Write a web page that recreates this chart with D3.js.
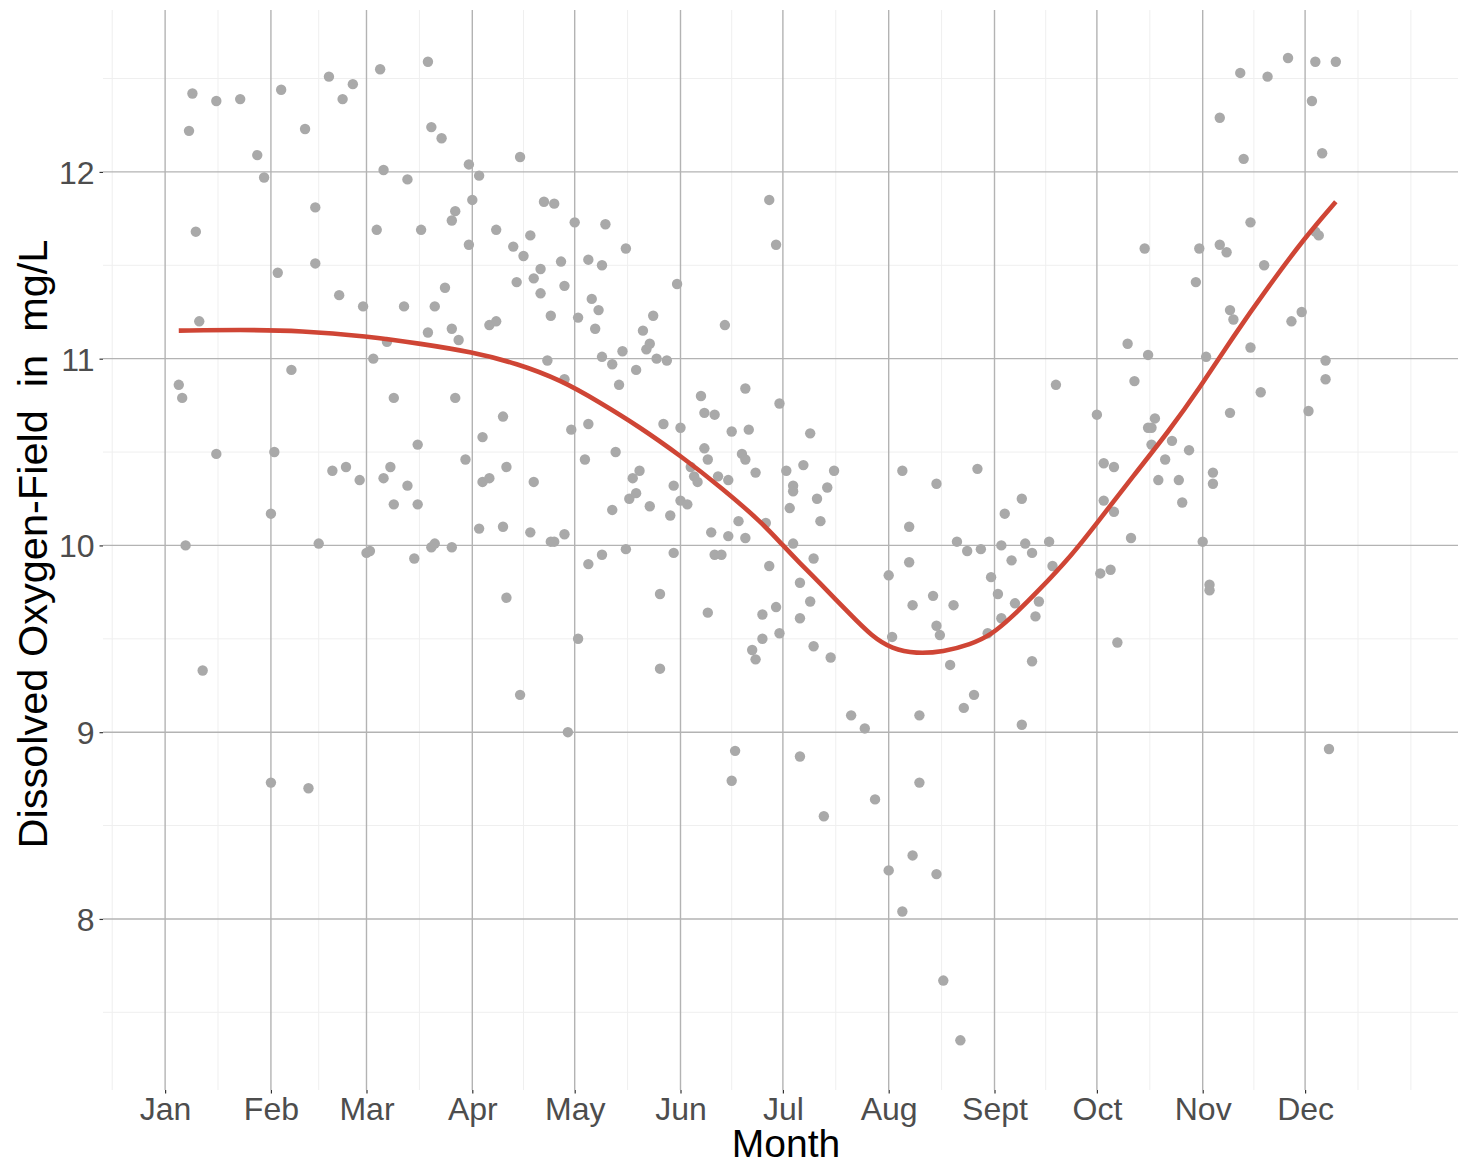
<!DOCTYPE html>
<html>
<head>
<meta charset="utf-8">
<script src="https://cdn.jsdelivr.net/npm/d3@7"></script>
<style>
  html, body { margin: 0; padding: 0; background: #ffffff; }
  svg { display: block; font-family: "Liberation Sans", Arial, Helvetica, sans-serif; }
</style>
</head>
<body>
<svg id="chart" width="1458" height="1164"></svg>
<script>
// ---- Data (day of year, dissolved oxygen mg/L) ----
const obsQ1 = [[5,10.86],[6,10.79],[7,10.00],[8,12.22],[9,12.42],[10,11.68],[11,11.20],[12,9.33],[16,12.38],[16,10.49],[23,12.39],[28,12.09],[30,11.97],[32,10.17],[33,10.50],[32,8.73],[34,11.46],[35,12.44],[38,10.94],[42,12.23],[43,8.70],[45,11.81],[45,11.51],[46,10.01],[49,12.51],[50,10.40],[52,11.34],[53,12.39],[54,10.42],[56,12.47],[58,10.35],[59,11.28],[60,9.96],[61,9.97],[62,11.00],[63,11.69],[64,12.55],[65,12.01],[65,10.36],[66,11.09],[67,10.42],[68,10.79],[68,10.22],[71,11.28],[72,11.96],[72,10.32],[74,9.93],[75,10.54],[75,10.22],[76,11.69],[78,12.59],[78,11.14],[79,12.24],[79,9.99],[80,11.28],[80,10.01],[82,12.18],[83,11.38],[85,11.74],[86,11.79],[85,11.16],[85,9.99],[86,10.79],[87,11.10],[89,10.46],[90,12.04],[90,11.61]];
const obsQ2 = [[91,11.85],[93,11.98],[93,10.09],[94,10.58],[94,10.34],[96,10.36],[96,11.18],[98,11.20],[98,11.69],[100,10.69],[100,10.10],[101,10.42],[101,9.72],[103,11.60],[104,11.41],[105,12.08],[105,9.20],[106,11.55],[108,11.66],[108,10.07],[109,11.43],[109,10.34],[111,11.48],[111,11.35],[112,11.84],[113,10.99],[114,11.23],[114,10.02],[115,10.02],[115,11.83],[117,11.52],[118,11.39],[118,10.89],[118,10.06],[119,9.00],[120,10.62],[121,11.73],[122,11.22],[122,9.50],[124,10.46],[125,11.53],[125,10.65],[125,9.90],[126,11.32],[127,11.16],[128,11.26],[129,11.50],[129,11.01],[129,9.95],[130,11.72],[132,10.97],[132,10.19],[133,10.50],[134,10.86],[135,11.04],[136,11.59],[136,9.98],[137,10.25],[138,10.36],[139,10.94],[139,10.28],[140,10.40],[141,11.15],[142,11.05],[143,11.08],[143,10.21],[144,11.23],[145,11.00],[146,9.74],[146,9.34],[147,10.65],[148,10.99],[149,10.16],[150,10.32],[150,9.96],[151,11.40],[152,10.63],[152,10.24],[154,10.22],[155,10.42],[156,10.37],[157,10.34],[158,10.80],[159,10.71],[159,10.52],[160,10.46],[160,9.64],[161,10.07],[162,10.70],[162,9.95],[163,10.37],[164,9.95],[165,11.18],[166,10.35],[166,10.05],[167,10.61],[167,8.74],[168,8.90],[169,10.13],[170,10.49],[171,10.46],[171,10.04],[171,10.84],[172,10.62],[173,9.44],[174,10.39],[174,9.39],[176,9.63],[176,9.50],[177,10.12],[178,11.85],[178,9.89],[180,11.61],[180,9.67],[181,10.76],[181,9.53]];
const obsQ3 = [[183,10.40],[184,10.20],[185,10.32],[185,10.29],[185,10.01],[187,9.80],[187,9.61],[187,8.87],[188,10.43],[190,10.60],[190,9.70],[191,9.93],[191,9.46],[192,10.25],[193,10.13],[194,8.55],[195,10.31],[196,9.40],[197,10.40],[202,9.09],[206,9.02],[209,8.64],[213,9.84],[213,8.26],[214,9.51],[217,10.40],[217,8.04],[219,10.10],[219,9.91],[220,9.68],[220,8.34],[222,9.09],[222,8.73],[226,9.73],[227,10.33],[227,9.57],[227,8.24],[228,9.52],[229,7.67],[231,9.36],[232,9.68],[233,10.02],[234,7.35],[235,9.13],[236,9.97],[238,9.20],[239,10.41],[240,9.98],[242,9.53],[243,9.83],[245,9.74],[246,10.00],[246,9.61],[247,10.17],[249,9.92],[250,9.69],[252,10.25],[252,9.04],[253,10.01],[255,9.96],[255,9.38],[256,9.62],[257,9.70],[260,10.02],[261,9.89],[262,10.86]];
const obsQ4 = [[274,10.70],[275,9.85],[276,10.44],[276,10.24],[278,9.87],[279,10.42],[279,10.18],[280,9.48],[283,11.08],[284,10.04],[285,10.88],[288,11.59],[289,10.63],[289,11.02],[290,10.63],[290,10.54],[291,10.68],[292,10.35],[294,10.46],[296,10.56],[298,10.35],[299,10.23],[301,10.51],[303,11.41],[304,11.59],[305,10.02],[306,11.01],[307,9.79],[307,9.76],[308,10.39],[308,10.33],[310,12.29],[310,11.61],[312,11.57],[313,11.26],[313,10.71],[314,11.21],[316,12.53],[317,12.07],[319,11.73],[319,11.06],[322,10.82],[323,11.50],[324,12.51],[330,12.61],[331,11.20],[334,11.25],[336,10.72],[337,12.38],[338,12.59],[338,11.68],[339,11.66],[340,12.10],[341,10.99],[341,10.89],[342,8.91],[344,12.59]];

// Smoothed (loess) trend
const smoothDays = [5, 23, 41, 60, 76, 91, 104, 117, 128, 140, 152, 164, 176, 182, 187, 192, 202, 208, 214, 221, 229, 237, 243, 249, 256, 267, 274, 285, 295, 304, 314, 324, 335, 344];
const smoothDO   = [11.15, 11.155, 11.15, 11.12, 11.08, 11.035, 10.975, 10.885, 10.77, 10.635, 10.48, 10.31, 10.12, 10.0, 9.905, 9.815, 9.625, 9.515, 9.445, 9.42, 9.43, 9.47, 9.52, 9.615, 9.74, 9.955, 10.12, 10.38, 10.61, 10.84, 11.12, 11.38, 11.65, 11.84];

// Axes
const monthStartDays = [1, 32, 60, 91, 121, 152, 182, 213, 244, 274, 305, 335];
const monthLabels = ["Jan", "Feb", "Mar", "Apr", "May", "Jun", "Jul", "Aug", "Sept", "Oct", "Nov", "Dec"];
const minorXDays = [-14.5, 16.5, 46, 75.5, 106, 136.5, 167, 197.5, 228.5, 259, 289.5, 320, 350.5, 366];
const yTicks = [8, 9, 10, 11, 12];
const yMinorTicks = [7.5, 8.5, 9.5, 10.5, 11.5, 12.5];
const xDomain = [-17.2, 379.8];
const yDomain = [7.084, 12.867];

// ---- Layout ----
const W = 1458, H = 1164;
const panel = { left: 103, right: 1458, top: 10, bottom: 1090 };

const svg = d3.select("#chart");
svg.append("rect").attr("width", W).attr("height", H).attr("fill", "#ffffff");

const x = d3.scaleLinear().domain(xDomain).range([panel.left, panel.right]);
const y = d3.scaleLinear().domain(yDomain).range([panel.bottom, panel.top]);

const grid = svg.append("g");
// minor grid
grid.selectAll("line.vmin").data(minorXDays).join("line")
  .attr("x1", d => x(d)).attr("x2", d => x(d))
  .attr("y1", panel.top).attr("y2", panel.bottom)
  .attr("stroke", "#efefef").attr("stroke-width", 1);
grid.selectAll("line.hmin").data(yMinorTicks).join("line")
  .attr("x1", panel.left).attr("x2", panel.right)
  .attr("y1", d => y(d)).attr("y2", d => y(d))
  .attr("stroke", "#efefef").attr("stroke-width", 1);
// major grid
grid.selectAll("line.vmaj").data(monthStartDays).join("line")
  .attr("x1", d => x(d)).attr("x2", d => x(d))
  .attr("y1", panel.top).attr("y2", panel.bottom)
  .attr("stroke", "#b3b3b3").attr("stroke-width", 1.4);
grid.selectAll("line.hmaj").data(yTicks).join("line")
  .attr("x1", panel.left).attr("x2", panel.right)
  .attr("y1", d => y(d)).attr("y2", d => y(d))
  .attr("stroke", "#b3b3b3").attr("stroke-width", 1.4);

// points
const observations = [].concat(obsQ1, obsQ2, obsQ3, obsQ4);
svg.append("g").selectAll("circle").data(observations).join("circle")
  .attr("cx", d => x(d[0])).attr("cy", d => y(d[1]))
  .attr("r", 5.2).attr("fill", "#a9a9a9");

// smooth line
const smooth = smoothDays.map((d, i) => [d, smoothDO[i]]);
svg.append("path").datum(smooth)
  .attr("d", d3.line().x(d => x(d[0])).y(d => y(d[1])).curve(d3.curveBasis))
  .attr("fill", "none").attr("stroke", "#cf4535").attr("stroke-width", 4.6)
  .attr("stroke-linecap", "butt").attr("stroke-linejoin", "round");

// x axis
const xAxis = svg.append("g").attr("transform", `translate(0,${panel.bottom})`)
  .call(d3.axisBottom(x).tickValues(monthStartDays).tickSize(3.5).tickPadding(6)
    .tickFormat((d, i) => monthLabels[i]));
xAxis.select(".domain").remove();
xAxis.selectAll(".tick line").attr("stroke", "#333333").attr("stroke-width", 1.2);
xAxis.selectAll(".tick text").attr("fill", "#4d4d4d").attr("font-size", 32)
  .attr("font-family", "'Liberation Sans', Arial, sans-serif").attr("dy", "0.64em");

// y axis
const yAxis = svg.append("g").attr("transform", `translate(${panel.left},0)`)
  .call(d3.axisLeft(y).tickValues(yTicks).tickSize(3.5).tickPadding(5).tickFormat(d3.format("d")));
yAxis.select(".domain").remove();
yAxis.selectAll(".tick line").attr("stroke", "#333333").attr("stroke-width", 1.2);
yAxis.selectAll(".tick text").attr("fill", "#4d4d4d").attr("font-size", 32)
  .attr("font-family", "'Liberation Sans', Arial, sans-serif").attr("dy", "0.36em");

// titles
svg.append("text").attr("x", 786).attr("y", 1157)
  .attr("text-anchor", "middle").attr("font-size", 39).attr("fill", "#000000")
  .text("Month");
svg.append("text")
  .attr("transform", "translate(47,544) rotate(-90)")
  .attr("text-anchor", "middle").attr("font-size", 41.5).attr("fill", "#000000")
  .style("white-space", "pre")
  .text("Dissolved Oxygen-Field  in  mg/L");
</script>
</body>
</html>
